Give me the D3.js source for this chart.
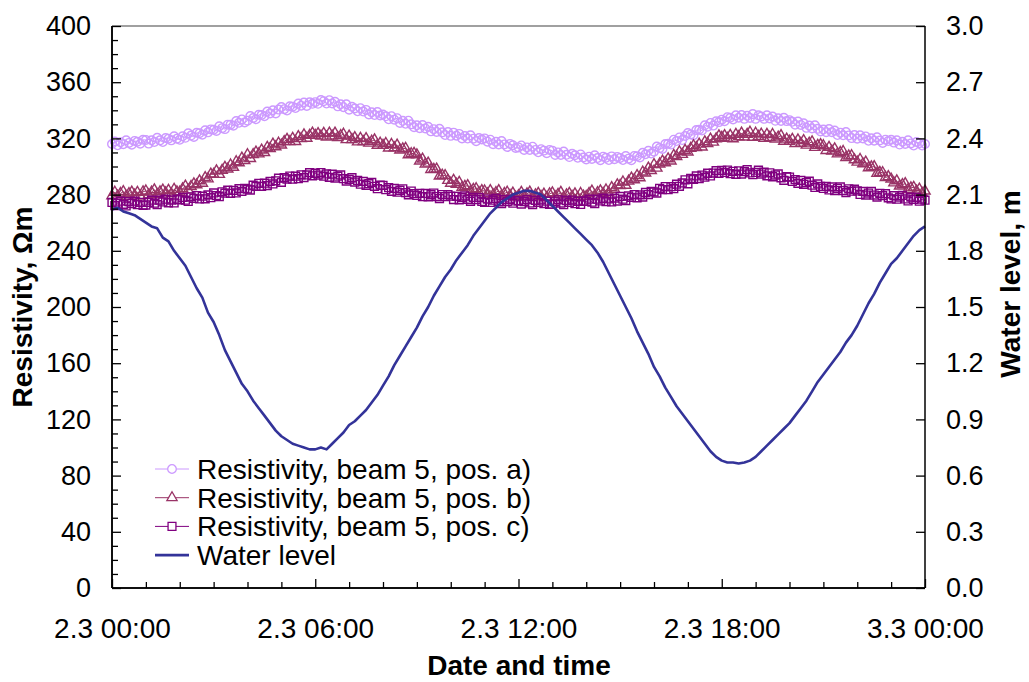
<!DOCTYPE html>
<html>
<head>
<meta charset="utf-8">
<script src="https://cdn.jsdelivr.net/npm/d3@7"></script>
<style>
  html, body { margin: 0; padding: 0; background: #fff; }
  svg { display: block; }
  text { font-family: "Liberation Sans", Arial, sans-serif; fill: #000; }
</style>
</head>
<body>
<svg id="chart" width="1029" height="682"></svg>
<script>
// Logging period 2.3 00:00 – 3.3 00:00
const startTime = new Date(2003, 2, 2, 0, 0);
const resStepMinutes = 5;    // resistivity readings every 5 min
const waterStepMinutes = 10; // water level readings every 10 min

// Resistivity (Ωm), beam 5, position a)  — 12 readings per hour
const resA = [
  316.0, 317.8, 315.1, 317.3, 315.9, 318.7, 316.8, 315.5, 318.2, 317.6, 316.2, 319.0,
  318.9, 316.3, 318.7, 317.4, 320.4, 318.6, 317.4, 320.3, 319.8, 318.6, 321.5, 319.8,
  319.0, 321.5, 320.4, 323.6, 322.0, 321.0, 324.0, 323.7, 322.6, 325.8, 324.3, 326.4,
  326.1, 325.3, 328.6, 327.3, 326.6, 329.8, 329.8, 329.0, 332.3, 331.1, 333.5, 331.3,
  332.6, 335.9, 334.5, 333.6, 336.8, 336.7, 335.8, 339.1, 337.8, 340.0, 337.8, 340.5,
  342.3, 340.8, 339.8, 342.9, 342.6, 341.6, 344.8, 343.3, 345.5, 343.1, 345.7, 344.6,
  345.8, 344.6, 347.3, 346.5, 344.8, 347.2, 344.9, 346.1, 342.8, 344.3, 342.2, 344.3,
  340.4, 342.5, 341.3, 339.3, 341.5, 339.1, 340.3, 337.0, 338.6, 336.6, 338.8, 336.3,
  337.0, 335.7, 333.6, 335.8, 333.3, 334.4, 331.0, 332.5, 330.4, 332.6, 330.0, 328.0,
  329.3, 327.3, 329.5, 327.1, 328.3, 325.0, 326.6, 324.6, 326.8, 324.3, 322.4, 324.5,
  321.8, 324.1, 321.9, 323.2, 320.0, 321.7, 319.9, 322.2, 319.8, 318.0, 320.3, 319.2,
  320.0, 317.7, 319.1, 315.9, 317.6, 315.7, 318.1, 315.7, 313.9, 316.1, 315.1, 313.2,
  313.6, 315.0, 311.8, 313.6, 311.8, 314.1, 311.8, 310.1, 312.3, 311.3, 309.5, 311.8,
  311.3, 308.2, 310.0, 308.2, 310.6, 308.3, 306.7, 309.0, 308.0, 306.2, 308.6, 306.4,
  305.0, 307.0, 305.4, 308.0, 306.0, 304.5, 307.0, 306.2, 304.6, 307.2, 305.2, 306.8,
  306.1, 304.6, 307.4, 305.6, 304.5, 307.5, 307.3, 306.4, 309.8, 308.7, 311.2, 309.2,
  310.6, 314.2, 313.1, 312.5, 316.0, 316.2, 315.6, 319.1, 318.1, 320.7, 318.8, 321.7,
  323.8, 322.8, 322.3, 325.9, 326.1, 325.6, 329.3, 328.3, 331.0, 329.1, 332.2, 331.6,
  333.3, 332.2, 335.1, 334.7, 333.5, 336.4, 334.7, 336.6, 333.9, 336.1, 334.6, 337.3,
  333.9, 336.4, 335.6, 333.9, 336.4, 334.2, 335.6, 332.5, 334.3, 332.4, 334.7, 332.3,
  333.0, 331.8, 329.8, 332.0, 329.6, 330.8, 327.5, 329.1, 327.1, 329.3, 326.8, 324.9,
  326.3, 324.4, 326.7, 324.4, 325.6, 322.4, 324.1, 322.2, 324.5, 322.1, 320.2, 322.4,
  319.8, 322.2, 320.0, 321.4, 318.3, 320.1, 318.4, 320.8, 318.5, 316.8, 319.1, 318.1,
  319.0, 317.0, 318.6, 315.6, 317.6, 316.0, 318.6, 316.4, 314.9, 317.4, 316.6, 314.9,
  316.0
];

// Resistivity (Ωm), beam 5, position b)
const resB = [
  279.2, 281.7, 278.9, 280.8, 282.2, 278.7, 280.7, 281.8, 279.7, 281.6, 278.9, 282.0,
  282.6, 279.9, 281.8, 283.4, 280.0, 282.0, 283.2, 281.2, 283.1, 280.6, 283.8, 282.0,
  281.7, 284.1, 286.1, 283.2, 285.8, 287.7, 287.0, 289.8, 288.1, 292.1, 291.2, 294.6,
  294.5, 296.9, 294.4, 297.3, 299.4, 298.2, 301.1, 299.4, 303.4, 302.6, 306.0, 304.2,
  308.4, 305.7, 308.5, 310.3, 309.0, 311.7, 309.9, 313.7, 312.7, 316.0, 314.0, 316.6,
  315.3, 317.8, 319.3, 317.7, 320.0, 317.8, 321.3, 319.8, 322.6, 320.1, 322.2, 323.8,
  322.2, 323.5, 321.6, 323.6, 320.9, 323.8, 321.7, 323.8, 320.6, 322.0, 323.0, 319.1,
  321.7, 319.1, 320.6, 317.5, 320.1, 317.8, 319.9, 316.6, 318.0, 319.0, 315.1, 316.6,
  315.0, 316.4, 313.2, 315.7, 313.3, 315.2, 311.7, 312.6, 313.0, 308.3, 309.1, 309.4,
  308.3, 303.9, 305.3, 301.7, 302.4, 297.9, 298.0, 298.1, 293.2, 293.8, 293.6, 290.1,
  288.1, 290.2, 287.4, 288.8, 285.0, 285.9, 286.4, 282.3, 283.7, 284.2, 281.5, 282.8,
  282.6, 280.6, 282.9, 279.8, 281.5, 282.8, 279.1, 280.8, 281.7, 279.4, 281.1, 278.2,
  279.2, 281.6, 278.7, 280.5, 281.8, 278.2, 279.9, 280.9, 278.7, 280.4, 277.8, 280.6,
  281.3, 278.4, 280.2, 281.6, 278.0, 279.9, 280.9, 278.7, 280.5, 277.8, 280.8, 278.9,
  278.7, 280.8, 282.5, 279.2, 281.4, 282.7, 280.8, 283.3, 281.3, 285.0, 283.8, 286.9,
  286.5, 289.0, 286.6, 289.6, 291.7, 290.6, 293.6, 292.0, 296.1, 295.3, 298.9, 297.1,
  301.4, 298.8, 301.8, 303.8, 302.7, 305.5, 303.9, 307.9, 307.0, 310.5, 308.6, 311.5,
  310.3, 313.0, 314.8, 313.4, 315.9, 313.9, 317.6, 316.4, 319.5, 317.3, 319.7, 321.8,
  320.7, 322.0, 320.1, 322.2, 319.7, 322.9, 321.2, 323.8, 321.0, 322.9, 324.4, 320.8,
  323.7, 321.4, 323.0, 320.1, 322.9, 320.7, 322.8, 319.6, 321.0, 322.0, 318.0, 319.5,
  318.0, 319.4, 316.3, 318.9, 316.5, 318.5, 315.2, 316.6, 317.6, 313.6, 315.0, 315.6,
  314.8, 311.4, 313.6, 311.0, 312.6, 309.0, 310.0, 310.7, 306.3, 307.5, 307.7, 304.8,
  303.1, 305.0, 301.9, 303.2, 299.1, 299.7, 299.9, 295.1, 295.8, 295.6, 292.2, 292.8,
  291.1, 288.3, 289.8, 286.1, 287.1, 287.8, 283.5, 284.8, 285.2, 282.5, 283.9, 280.9,
  282.5
];

// Resistivity (Ωm), beam 5, position c)
const resC = [
  274.4, 272.1, 273.9, 275.3, 273.1, 271.9, 275.0, 273.6, 275.3, 272.8, 274.5, 272.4,
  272.6, 274.5, 276.0, 273.9, 272.9, 276.0, 274.8, 276.7, 274.2, 276.1, 274.1, 276.7,
  276.3, 278.0, 276.0, 275.1, 278.4, 277.3, 279.3, 276.9, 278.9, 277.0, 279.8, 277.8,
  281.2, 279.3, 278.5, 282.0, 281.0, 283.1, 280.9, 283.0, 281.2, 284.2, 282.3, 284.4,
  283.9, 283.2, 286.7, 285.8, 288.0, 285.9, 288.1, 286.4, 289.4, 287.6, 289.8, 291.7,
  288.7, 292.1, 291.1, 293.2, 291.0, 293.1, 291.3, 294.1, 292.1, 294.0, 295.6, 293.4,
  295.2, 293.9, 295.7, 293.1, 294.7, 292.3, 294.5, 291.8, 293.1, 294.0, 291.3, 289.6,
  290.8, 292.0, 288.9, 290.1, 287.4, 289.4, 286.6, 287.8, 288.7, 285.9, 284.2, 286.7,
  286.5, 283.5, 284.9, 282.3, 284.4, 281.7, 283.1, 284.1, 281.4, 279.8, 282.5, 280.7,
  279.4, 280.9, 278.5, 280.8, 278.4, 279.9, 281.1, 278.6, 277.2, 280.0, 278.5, 280.0,
  278.9, 276.5, 278.8, 276.3, 277.8, 279.0, 276.6, 275.2, 278.0, 276.4, 277.9, 275.1,
  274.4, 276.8, 274.4, 276.0, 277.3, 274.9, 273.6, 276.5, 275.0, 276.6, 273.9, 275.5,
  275.6, 273.3, 275.0, 276.4, 274.1, 272.9, 275.9, 274.5, 276.2, 273.6, 275.3, 273.1,
  273.2, 274.9, 276.3, 274.0, 272.8, 275.8, 274.4, 276.1, 273.5, 275.2, 273.0, 275.5,
  275.1, 276.7, 274.6, 273.6, 276.7, 275.5, 277.4, 275.0, 276.9, 274.8, 277.5, 275.4,
  278.7, 276.7, 275.8, 279.1, 278.0, 280.0, 277.7, 279.8, 278.3, 281.5, 280.0, 282.3,
  281.9, 281.1, 284.5, 283.6, 285.7, 283.5, 285.6, 284.2, 287.4, 285.9, 288.3, 290.5,
  287.7, 291.5, 290.8, 293.3, 291.4, 293.9, 292.4, 295.2, 293.3, 295.3, 297.0, 295.1,
  297.2, 295.8, 297.5, 294.9, 296.6, 294.4, 296.9, 294.6, 296.3, 297.7, 295.4, 294.2,
  295.8, 297.4, 294.6, 296.0, 293.4, 295.5, 292.7, 293.9, 294.7, 291.9, 290.2, 292.7,
  292.5, 289.4, 290.7, 288.0, 290.1, 287.3, 288.6, 289.5, 286.7, 285.1, 287.6, 285.8,
  284.4, 285.8, 283.3, 285.5, 282.9, 284.3, 285.5, 282.9, 281.4, 284.1, 282.4, 283.8,
  282.6, 280.1, 282.3, 279.7, 281.1, 282.2, 279.7, 278.2, 280.9, 279.2, 280.6, 277.7,
  276.9, 279.2, 276.7, 278.2, 279.4, 276.9, 275.5, 278.2, 276.6, 278.1, 275.3, 276.8,
  276.0
];

// Water level (m) — 6 readings per hour
const waterLevel = [
  2.02, 2.03, 2.01, 2.00, 1.99, 1.97,
  1.95, 1.93, 1.92, 1.87, 1.85, 1.80,
  1.76, 1.72, 1.66, 1.60, 1.55, 1.47,
  1.42, 1.35, 1.27, 1.21, 1.15, 1.09,
  1.05, 1.00, 0.96, 0.92, 0.88, 0.84,
  0.81, 0.79, 0.77, 0.76, 0.75, 0.74,
  0.74, 0.75, 0.74, 0.77, 0.80, 0.83,
  0.87, 0.89, 0.92, 0.95, 0.99, 1.03,
  1.08, 1.13, 1.19, 1.24, 1.29, 1.34,
  1.39, 1.45, 1.50, 1.56, 1.61, 1.66,
  1.70, 1.75, 1.79, 1.83, 1.88, 1.92,
  1.96, 2.00, 2.03, 2.06, 2.08, 2.10,
  2.11, 2.12, 2.12, 2.11, 2.10, 2.07,
  2.04, 2.01, 1.98, 1.95, 1.92, 1.89,
  1.86, 1.83, 1.79, 1.74, 1.68, 1.62,
  1.56, 1.50, 1.44, 1.37, 1.31, 1.25,
  1.18, 1.13, 1.07, 1.02, 0.97, 0.93,
  0.89, 0.85, 0.81, 0.77, 0.73, 0.70,
  0.68, 0.67, 0.67, 0.665, 0.67, 0.68,
  0.70, 0.73, 0.76, 0.79, 0.82, 0.85,
  0.88, 0.92, 0.96, 1.00, 1.05, 1.10,
  1.14, 1.18, 1.22, 1.26, 1.31, 1.35,
  1.40, 1.46, 1.52, 1.57, 1.63, 1.68,
  1.73, 1.76, 1.80, 1.84, 1.88, 1.91,
  1.93
];

// Axis ticks and labels
const leftTicks = [0, 40, 80, 120, 160, 200, 240, 280, 320, 360, 400];
const rightTicks = [0.0, 0.3, 0.6, 0.9, 1.2, 1.5, 1.8, 2.1, 2.4, 2.7, 3.0];
const xTickHours = [0, 6, 12, 18, 24];
const xTickLabels = ["2.3 00:00", "2.3 06:00", "2.3 12:00", "2.3 18:00", "3.3 00:00"];

const seriesNames = [
  "Resistivity, beam 5, pos. a)",
  "Resistivity, beam 5, pos. b)",
  "Resistivity, beam 5, pos. c)",
  "Water level"
];

// ---- layout ----
const X0 = 112, X1 = 925, Y0 = 588, Y1 = 26;
const svg = d3.select("#chart");

const hourMs = 3600 * 1000;
const timeAt = (i, step) => new Date(startTime.getTime() + i * step * 60000);
const resTimes = resA.map((_, i) => timeAt(i, resStepMinutes));
const waterTimes = waterLevel.map((_, i) => timeAt(i, waterStepMinutes));
const endTime = new Date(startTime.getTime() + 24 * hourMs);

const x = d3.scaleTime().domain([startTime, endTime]).range([X0, X1]);
const yL = d3.scaleLinear().domain([0, 400]).range([Y0, Y1]);
const yR = d3.scaleLinear().domain([0, 3.0]).range([Y0, Y1]);

// plot frame (top edge grey)
svg.append("line").attr("x1", X0).attr("x2", X1).attr("y1", Y1).attr("y2", Y1)
  .attr("stroke", "#808080").attr("stroke-width", 1.5);

// ---- series ----
const colA = "#cc99ff", colB = "#993366", colC = "#800080", colW = "#333399";
const plot = svg.append("g");

function drawLine(values, tms, color, width, yScale) {
  const line = d3.line().x((d, i) => x(tms[i])).y(d => yScale(d));
  plot.append("path").datum(values).attr("d", line)
    .attr("fill", "none").attr("stroke", color).attr("stroke-width", width)
    .attr("stroke-linejoin", "round");
}

const sym = {
  circle: d3.symbol().type(d3.symbolCircle).size(58),
  triangle: d3.symbol().type(d3.symbolTriangle).size(46),
  square: d3.symbol().type(d3.symbolSquare).size(62)
};

function drawMarkers(values, color, shape) {
  plot.append("g").selectAll("path").data(values).join("path")
    .attr("transform", (d, i) => `translate(${x(resTimes[i])},${yL(d)})`)
    .attr("d", sym[shape]())
    .attr("fill", "none").attr("stroke", color).attr("stroke-width", 1.4);
}

drawLine(resA, resTimes, colA, 1, yL); drawMarkers(resA, colA, "circle");
drawLine(resB, resTimes, colB, 1, yL); drawMarkers(resB, colB, "triangle");
drawLine(resC, resTimes, colC, 1, yL); drawMarkers(resC, colC, "square");
drawLine(waterLevel, waterTimes, colW, 2.6, yR);

// ---- axes ----
const gL = svg.append("g").attr("transform", `translate(${X0},0)`)
  .call(d3.axisLeft(yL).tickValues(leftTicks).tickSize(-9).tickPadding(21).tickFormat(d3.format("d")));
gL.append("g").call(d3.axisLeft(yL)
  .tickValues(d3.range(0, 401, 10).filter(v => v % 40 !== 0)).tickSize(-6).tickFormat(""));
const gR = svg.append("g").attr("transform", `translate(${X1},0)`)
  .call(d3.axisRight(yR).tickValues(rightTicks).tickSize(-9).tickPadding(21).tickFormat(d3.format(".1f")));
const gB = svg.append("g").attr("transform", `translate(0,${Y0})`)
  .call(d3.axisBottom(x).tickValues(xTickHours.map(h => new Date(startTime.getTime() + h * hourMs)))
    .tickSize(-9).tickPadding(30).tickFormat((d, i) => xTickLabels[i]));
gB.append("g").call(d3.axisBottom(x)
  .tickValues(d3.range(0, 25).filter(h => h % 6 !== 0).map(h => new Date(startTime.getTime() + h * hourMs)))
  .tickSize(-6).tickFormat(""));

[gL, gR, gB].forEach(g => {
  g.selectAll(".domain").attr("stroke", "#000").attr("stroke-width", 1.5);
  g.selectAll(".tick line").attr("stroke", "#000").attr("stroke-width", 1.3);
  g.selectAll("text").attr("font-family", "Liberation Sans, Arial, sans-serif")
    .attr("font-size", 27).attr("fill", "#000");
});
gB.selectAll(".tick text").attr("font-size", 28);
gL.selectAll(".domain").attr("d", `M0,${Y0}V${Y1}`);
gR.selectAll(".domain").attr("d", `M0,${Y0}V${Y1}`);
gB.selectAll(".domain").attr("d", `M${X0},0H${X1}`);

// ---- axis titles ----
svg.append("text").attr("x", 519).attr("y", 675).attr("text-anchor", "middle")
  .attr("font-weight", "bold").attr("font-size", 28).text("Date and time");
svg.append("text").attr("transform", `translate(32,307) rotate(-90)`).attr("text-anchor", "middle")
  .attr("font-weight", "bold").attr("font-size", 28).text("Resistivity, Ωm");
svg.append("text").attr("transform", `translate(1020,284) rotate(-90)`).attr("text-anchor", "middle")
  .attr("font-weight", "bold").attr("font-size", 28).text("Water level, m");

// ---- legend ----
const legend = svg.append("g");
const legendItems = [
  { name: seriesNames[0], color: colA, shape: "circle", w: 1 },
  { name: seriesNames[1], color: colB, shape: "triangle", w: 1 },
  { name: seriesNames[2], color: colC, shape: "square", w: 1 },
  { name: seriesNames[3], color: colW, shape: null, w: 2.6 }
];
legendItems.forEach((it, i) => {
  const cy = 469 + i * 28.7;
  legend.append("line").attr("x1", 155).attr("x2", 189).attr("y1", cy).attr("y2", cy)
    .attr("stroke", it.color).attr("stroke-width", it.w);
  if (it.shape) {
    legend.append("path").attr("transform", `translate(172,${cy})`).attr("d", sym[it.shape]())
      .attr("fill", "#fff").attr("stroke", it.color).attr("stroke-width", 1.3);
  }
  legend.append("text").attr("x", 197).attr("y", cy).attr("dy", "0.36em")
    .attr("font-size", 28).text(it.name);
});
</script>
</body>
</html>
